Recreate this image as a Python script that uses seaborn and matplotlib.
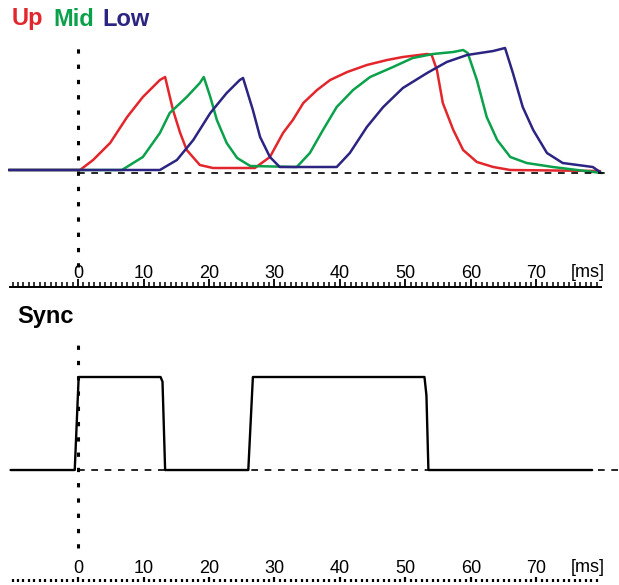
import matplotlib
matplotlib.use("Agg")
import matplotlib.pyplot as plt
from matplotlib.ticker import FixedLocator
import seaborn as sns
import pandas as pd

# ---- data (time in ms, amplitude in arbitrary units) ----
up_t = [-10.6, 0.0, 0.3, 2.3, 4.9, 7.5, 9.9, 12.5, 13.3, 14.5, 15.6, 16.6, 18.6, 20.6, 27.0,
        29.3, 31.3, 32.8, 34.4, 36.5, 38.5, 41.1, 44.1, 47.2, 49.6, 53.3, 54.0, 54.8, 55.7,
        57.3, 58.8, 60.9, 63.4, 66.0, 79.7]
up_v = [0.02, 0.02, 0.02, 0.12, 0.29, 0.55, 0.75, 0.92, 0.95, 0.62, 0.39, 0.22, 0.07, 0.04, 0.04,
        0.15, 0.39, 0.52, 0.69, 0.82, 0.92, 1.00, 1.07, 1.12, 1.15, 1.18, 1.17, 1.02, 0.69,
        0.42, 0.22, 0.10, 0.05, 0.02, 0.01]

mid_t = [-10.6, 6.7, 9.9, 12.5, 14.0, 16.6, 18.6, 19.2, 20.2, 21.2, 22.7, 24.3, 26.3, 33.4,
         35.4, 37.4, 39.5, 42.0, 44.6, 48.1, 51.1, 54.2, 57.3, 58.8, 59.5, 60.9, 62.4, 64.0,
         66.0, 68.5, 72.5, 76.2, 80.0]
mid_v = [0.02, 0.02, 0.15, 0.39, 0.59, 0.75, 0.89, 0.95, 0.75, 0.52, 0.29, 0.14, 0.06, 0.05,
         0.19, 0.42, 0.65, 0.82, 0.95, 1.05, 1.14, 1.18, 1.20, 1.22, 1.19, 0.92, 0.55, 0.32,
         0.15, 0.09, 0.05, 0.02, -0.01]

low_t = [-10.6, 12.5, 15.1, 17.6, 20.2, 22.7, 24.7, 25.2, 26.7, 27.8, 29.3, 30.8, 39.5, 41.5,
         44.1, 46.6, 49.6, 53.3, 56.3, 59.4, 61.4, 63.4, 65.2, 66.4, 67.9, 69.5, 71.6, 74.0,
         78.6, 79.7]
low_v = [0.02, 0.02, 0.12, 0.32, 0.59, 0.79, 0.92, 0.94, 0.62, 0.35, 0.15, 0.05, 0.05, 0.19,
         0.45, 0.65, 0.84, 0.99, 1.10, 1.17, 1.19, 1.21, 1.24, 0.99, 0.65, 0.42, 0.19, 0.09,
         0.05, 0.0]

sync_t = [-10.3, -0.5, 0.1, 12.6, 12.9, 13.3, 26.0, 26.7, 52.9, 53.2, 53.5, 78.5]
sync_v = [0, 0, 1, 1, 0.95, 0, 0, 1, 1, 0.8, 0, 0]

tick_values = [0, 10, 20, 30, 40, 50, 60, 70]
tick_labels = ["0", "10", "20", "30", "40", "50", "60", "70"]
unit_label = "[ms]"
series_names = ["Up", "Mid", "Low"]
series_colors = ["#e3262b", "#0aa14a", "#2b2481"]

# ---- style ----
sns.set_style("white")
plt.rcParams["font.family"] = ["Liberation Sans", "DejaVu Sans"]
plt.rcParams["text.color"] = "black"

W, H = 619, 585
fig = plt.figure(figsize=(W / 100, H / 100), dpi=100)


def frac_x(px):
    return px / W


def frac_y(py):
    return 1 - py / H


x_left, x_right = -10.69, 82.6
ax1 = fig.add_axes([frac_x(8), frac_y(287), 1 - frac_x(8), frac_y(5) - frac_y(287)])
ax2 = fig.add_axes([frac_x(8), frac_y(582), 1 - frac_x(8), frac_y(300) - frac_y(582)])

# ---- top panel ----
frames = []
for name, t, v in zip(series_names, [up_t, mid_t, low_t], [up_v, mid_v, low_v]):
    frames.append(pd.DataFrame({"t": t, "v": v, "s": name}))
df = pd.concat(frames, ignore_index=True)
sns.lineplot(data=df, x="t", y="v", hue="s", palette=dict(zip(series_names, series_colors)),
             estimator=None, sort=True, linewidth=1.8, legend=False, ax=ax1, zorder=3)

ax1.set_xlim(x_left, x_right)
ax1.set_ylim(-1.15, 1.67)
ax1.hlines(-0.01, 0, 80.5, colors="black", linewidth=1.2, linestyles=(0, (4, 4)), zorder=4)
ax1.vlines(0, -0.95, 1.27, colors="black", linewidth=2.2, linestyles=(0, (1.4, 3.6)), zorder=5)

# ---- bottom panel ----
sdf = pd.DataFrame({"t": sync_t, "v": sync_v})
sns.lineplot(data=sdf, x="t", y="v", color="black", estimator=None, sort=False,
             linewidth=1.7, ax=ax2, zorder=3)
ax2.set_xlim(x_left, x_right)
ax2.set_ylim(-1.204, 1.828)
ax2.hlines(0, 0, x_right, colors="black", linewidth=1.2, linestyles=(0, (4, 4)), zorder=4,
           clip_on=False)
ax2.vlines(0, -0.84, 1.40, colors="black", linewidth=2.2, linestyles=(0, (1.4, 3.6)), zorder=5)

for ax in (ax1, ax2):
    ax.set_xlabel("")
    ax.set_ylabel("")
    ax.set_yticks([])
    for s in ("top", "left", "right"):
        ax.spines[s].set_visible(False)
    ax.xaxis.set_major_locator(FixedLocator(tick_values))
    ax.set_xticklabels(tick_labels)
    minor = [k * 10 / 12 for k in range(-12, 96) if -10.4 <= k * 10 / 12 <= 79.2]
    ax.xaxis.set_minor_locator(FixedLocator(minor))
    ax.tick_params(axis="x", which="both", bottom=True, colors="black")
    ax.tick_params(axis="x", which="major", direction="in", length=6, width=1.3,
                   labelsize=13, pad=-16, labelcolor="black")
    ax.tick_params(axis="x", which="minor", direction="in", length=3.5, width=1.1)
    ax.text(77.8, 0.022, unit_label, transform=ax.get_xaxis_transform(), fontsize=13,
            ha="center", va="bottom", color="black")

ax1.spines["bottom"].set_bounds(-10.4, 79.8)
ax1.spines["bottom"].set_linewidth(1.4)
ax1.spines["bottom"].set_color("black")
ax2.spines["bottom"].set_visible(False)
ax2.tick_params(axis="x", which="major", length=3.5, width=1.6)
ax2.tick_params(axis="x", which="minor", length=2, width=1.6)

# ---- titles ----
x_pos = [12, 53, 102]
for name, col, xp in zip(series_names, series_colors, x_pos):
    fig.text(frac_x(xp), frac_y(19), name, color=col, fontsize=17, fontweight="bold",
             ha="left", va="center")
fig.text(frac_x(17), frac_y(316), "Sync", color="black", fontsize=17, fontweight="bold",
         ha="left", va="center")

fig.savefig("out.png", dpi=100)
